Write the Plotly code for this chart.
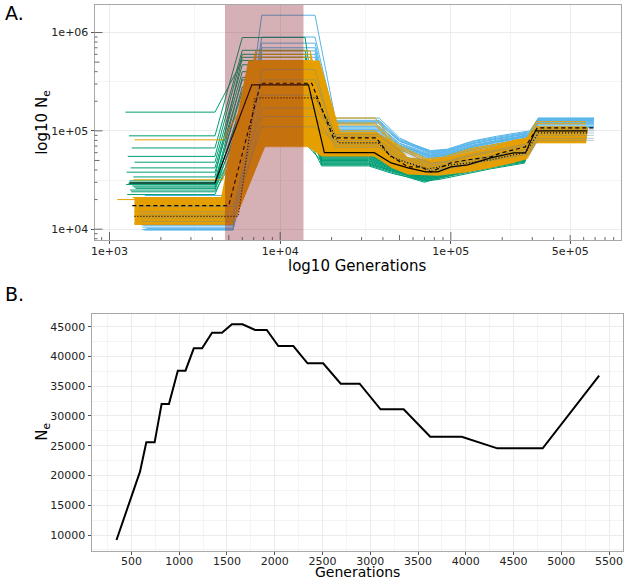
import math
import plotly.graph_objects as go

# ================= Panel A data (Ne values in thousands) =================
# epoch boundary times (generations) for each bootstrap colour group
green_times = [4150, 6000, 14000, 17500, 33000, 45000, 70000, 85000, 125000, 170000, 270000, 300000, 590000]
orange_times = [4600, 7200, 15000, 19000, 36000, 47000, 72000, 90000, 130000, 175000, 280000, 315000, 620000]
blue_times = [5300, 7800, 16000, 21000, 38000, 50000, 76000, 95000, 135000, 185000, 290000, 325000, 690000]

green_start = [1240, 1300, 1350, 1280, 1400, 1330, 1260, 1380, 1310, 1290, 1360, 1420, 1340, 1270, 1300, 1250, 1390, 1320]
green_left = [155, 89, 67, 55, 48, 42, 38, 34, 31, 29, 27.5, 26, 24, 22.5, 30, 28.5, 26.8, 25]
green_high = [520, 890, 660, 600, 470, 400, 330, 560, 250, 180, 130, 95, 75, 110, 350, 280, 200, 150]
green_second = [62, 58, 55, 52, 50, 48, 46, 45, 47, 53, 60, 44, 49, 56, 51, 54, 57, 46]
green_ta = [48, 45, 44, 42, 41, 40, 40, 38, 39, 43, 46, 37, 41, 44, 42, 43, 45, 39]
green_tb = [38, 35, 34, 33, 32, 31, 33, 30, 32, 35, 36, 31, 34, 33, 32, 34, 35, 31]
green_tc = [40, 37, 36, 35, 34, 33, 35, 33, 34, 37, 38, 32, 36, 35, 34, 36, 37, 33]
green_ra = [46, 44, 42, 41, 40, 39, 42, 38, 40, 43, 45, 37, 41, 43, 41, 42, 44, 39]
green_rb = [52, 49, 47, 46, 44, 43, 46, 42, 45, 48, 50, 41, 45, 47, 45, 46, 48, 43]
green_pre = [58, 55, 54, 52, 50, 49, 53, 48, 51, 56, 57, 47, 52, 54, 51, 53, 55, 49]
green_final = [98, 92, 96, 88, 85, 90, 93, 86, 94, 100, 97, 84, 89, 91, 87, 95, 99, 88]

blue_start = [1560, 1600, 1650, 1580, 1620, 1540, 1680, 1600, 1570, 1640, 1610, 1590, 1660, 1550]
blue_left = [10.5, 9.8, 10.2, 11, 12, 14, 18, 10, 16, 13, 22, 11.5, 15, 9.9]
blue_high = [1500, 780, 650, 560, 500, 430, 360, 120, 300, 200, 470, 600, 900, 700]
blue_second = [135, 107, 100, 95, 125, 112, 90, 118, 104, 128, 98, 110, 122, 102]
blue_ta = [85, 72, 70, 66, 80, 75, 64, 78, 69, 82, 67, 74, 79, 71]
blue_tb = [60, 55, 57, 52, 62, 58, 50, 61, 54, 63, 53, 56, 59, 55]
blue_tc = [62, 57, 59, 54, 64, 60, 52, 63, 56, 65, 55, 58, 61, 57]
blue_ra = [75, 68, 70, 64, 78, 72, 62, 76, 66, 79, 65, 71, 74, 69]
blue_rb = [82, 76, 78, 71, 86, 80, 69, 84, 74, 88, 72, 79, 83, 77]
blue_pre = [95, 88, 90, 83, 98, 92, 80, 96, 86, 100, 84, 91, 94, 89]
blue_final = [135, 128, 118, 112, 132, 125, 108, 130, 115, 134, 110, 122, 128, 120]

orange_start = [1400, 1380, 1110, 1420, 1450, 1400, 1390, 1430, 1410, 1440, 1370, 1400]
orange_left = [81, 31.8, 20, 17, 13, 11.5, 15, 19, 12.5, 16, 21, 14]
orange_high = [300, 600, 470, 650, 90, 75, 150, 420, 69, 230, 560, 520]
orange_second = [115, 135, 100, 90, 70, 62, 80, 95, 66, 85, 120, 75]
orange_ta = [70, 75, 62, 58, 50, 46, 55, 60, 48, 56, 72, 52]
orange_tb = [48, 52, 42, 40, 38, 36, 41, 45, 37, 44, 50, 39]
orange_tc = [50, 54, 45, 42, 40, 37, 43, 47, 39, 46, 52, 41]
orange_ra = [62, 66, 55, 50, 45, 42, 48, 58, 44, 52, 64, 47]
orange_rb = [68, 72, 62, 56, 50, 46, 54, 64, 48, 58, 70, 52]
orange_pre = [78, 84, 72, 64, 56, 52, 61, 75, 54, 68, 82, 58]
orange_final = [105, 124, 110, 100, 82, 76, 90, 108, 78, 95, 118, 86]

# bluish replicates seen through the dense orange band
over_start = [1500, 1520, 1480, 1510, 1490, 1530]
over_left = [14, 12, 17, 13, 15, 11]
over_high = [110, 140, 170, 230, 330, 420]
over_second = [80, 72, 88, 68, 92, 76]
over_ta = [58, 52, 62, 50, 64, 55]
over_tb = [44, 40, 46, 39, 47, 42]
over_tc = [46, 42, 48, 41, 49, 44]
over_ra = [52, 48, 56, 46, 58, 50]
over_rb = [58, 53, 62, 51, 64, 56]
over_pre = [66, 60, 72, 58, 75, 63]
over_final = [90, 84, 100, 80, 104, 95]

# envelope of the dense orange bundle
band_upper_t = [1400, 4500, 6500, 17000, 22500, 37000, 47000, 56000, 76000, 100000, 136000, 171000, 233000, 273000, 321000, 638000]
band_upper_n = [21, 21, 520, 520, 97, 97, 75, 54, 51, 55, 62, 67, 81, 84, 109, 109]
band_lower_t = [1400, 5300, 8200, 14300, 17500, 35600, 45000, 56000, 84000, 125000, 171000, 233000, 273000, 315000, 620000]
band_lower_n = [11, 11, 70, 70, 55, 55, 42, 36, 35, 38, 42, 47, 51, 75, 75]

# summary lines
solid_t = [1310, 4150, 6820, 14650, 18150, 35600, 44700, 56100, 71400, 84000, 100000, 125600, 149600, 171000, 233000, 273500, 313000, 630000]
solid_n = [29.5, 29.5, 294, 294, 60, 60, 47.2, 42, 38.3, 38.3, 43, 45.1, 49.5, 53.1, 59.7, 59.7, 100, 100]
dashed_t = [1360, 5000, 7690, 15300, 20500, 36500, 43500, 56100, 66800, 76400, 100000, 125600, 171000, 196000, 233000, 273000, 321000, 700000]
dashed_n = [17.4, 17.4, 305, 305, 85, 85, 57, 43, 43, 38.3, 47.2, 50.7, 54.3, 59.7, 64.1, 68.7, 107.4, 107.4]
dotted_t = [1400, 5680, 7100, 16300, 21900, 37500, 44700, 56100, 73500, 100000, 125600, 171000, 233000, 273000, 326000, 638000]
dotted_n = [13.5, 13.5, 216, 216, 75.5, 75.5, 54.3, 47.2, 41, 45.1, 47.2, 50.7, 57, 59.7, 95.5, 95.5]

shade_start, shade_end = 4750, 13700

xa_ticks = [1e3, 1e4, 1e5, 5e5]
xa_labels = ["1e+03", "1e+04", "1e+05", "5e+05"]
ya_ticks = [1e4, 1e5, 1e6]
ya_labels = ["1e+04", "1e+05", "1e+06"]

# ================= Panel B data =================
gen_b = [344, 590, 656, 743, 816, 893, 986, 1066, 1153, 1240, 1344, 1448, 1552, 1663, 1795, 1917,
         2038, 2195, 2344, 2507, 2691, 2889, 3108, 3350, 3628, 3958, 4330, 4805, 5396]
ne_b = [9160, 20640, 25570, 25570, 32010, 32010, 37610, 37610, 41360, 41360, 44000, 44000, 45400, 45400,
        44440, 44440, 41750, 41750, 38840, 38840, 35430, 35430, 31110, 31110, 26520, 26520, 24560, 24560, 36770]

# ================= build =================
GREEN, ORANGE, BLUE = "#009E73", "#E69F00", "#56B4E9"
W, H = 625, 580
XA_RANGE = [2.9125, 5.997]
YA_RANGE = [3.89, 6.28]
XA_DOM = [92 / W, 621 / W]
YA_DOM = [1 - 240 / H, 1 - 5 / H]
XB_DOM = [89 / W, 623 / W]
YB_DOM = [1 - 551 / H, 1 - 314 / H]


def paths(times, start, left, high, second, ta, tb, tc, ra, rb, pre, final):
    xs, ys = [], []
    for i in range(len(start)):
        lv = [left[i], left[i], high[i], high[i], second[i], second[i], ta[i], tb[i], tc[i],
              ra[i], rb[i], pre[i], final[i], final[i]]
        xs += [start[i]] + list(times) + [None]
        ys += [v * 1000 for v in lv] + [None]
    return xs, ys


fig = go.Figure()


def add_group(xs, ys, color, width=1.0, opacity=1.0):
    fig.add_trace(go.Scatter(x=xs, y=ys, mode="lines", line=dict(color=color, width=width),
                             opacity=opacity, connectgaps=False, hoverinfo="skip",
                             showlegend=False, xaxis="x", yaxis="y"))


gx, gy = paths(green_times, green_start, green_left, green_high, green_second, green_ta, green_tb,
               green_tc, green_ra, green_rb, green_pre, green_final)
bx, by = paths(blue_times, blue_start, blue_left, blue_high, blue_second, blue_ta, blue_tb,
               blue_tc, blue_ra, blue_rb, blue_pre, blue_final)
ox, oy = paths(orange_times, orange_start, orange_left, orange_high, orange_second, orange_ta,
               orange_tb, orange_tc, orange_ra, orange_rb, orange_pre, orange_final)
vx, vy = paths(blue_times, over_start, over_left, over_high, over_second, over_ta, over_tb,
               over_tc, over_ra, over_rb, over_pre, over_final)

add_group(bx, by, BLUE)
add_group(gx, gy, GREEN)
# orange band
fig.add_trace(go.Scatter(
    x=band_upper_t + band_lower_t[::-1],
    y=[v * 1000 for v in band_upper_n + band_lower_n[::-1]],
    mode="lines", fill="toself", fillcolor=ORANGE, line=dict(width=0, color=ORANGE),
    hoverinfo="skip", showlegend=False, xaxis="x", yaxis="y"))
add_group(ox, oy, ORANGE)
add_group(vx, vy, "#6a8fa8", width=1.0, opacity=0.45)

fig.add_trace(go.Scatter(x=solid_t, y=[v * 1000 for v in solid_n], mode="lines",
                         line=dict(color="black", width=1.2), showlegend=False, xaxis="x", yaxis="y"))
fig.add_trace(go.Scatter(x=dashed_t, y=[v * 1000 for v in dashed_n], mode="lines",
                         line=dict(color="black", width=1.2, dash="4px,3px"), showlegend=False, xaxis="x", yaxis="y"))
fig.add_trace(go.Scatter(x=dotted_t, y=[v * 1000 for v in dotted_n], mode="lines",
                         line=dict(color="black", width=1.2, dash="1px,2px"), showlegend=False, xaxis="x", yaxis="y"))

# panel B
fig.add_trace(go.Scatter(x=gen_b, y=ne_b, mode="lines", line=dict(color="black", width=2),
                         showlegend=False, xaxis="x2", yaxis="y2"))


def xfrac(v):
    return (math.log10(v) - XA_RANGE[0]) / (XA_RANGE[1] - XA_RANGE[0])


shapes = []
# shaded period
shapes.append(dict(type="rect", xref="x domain", yref="y domain", x0=xfrac(shade_start), x1=xfrac(shade_end),
                   y0=0, y1=1, fillcolor="rgba(135,30,40,0.35)", line=dict(width=0), layer="above"))
# log ticks (inside, bottom and left)
xa_h = (YA_DOM[1] - YA_DOM[0]) * H
xa_w = (XA_DOM[1] - XA_DOM[0]) * W
for k in range(2, 7):
    for m in range(1, 10):
        v = m * 10 ** k
        ln = 8 if m == 1 else (5 if m == 5 else 3)
        lx = math.log10(v)
        if XA_RANGE[0] <= lx <= XA_RANGE[1]:
            f = xfrac(v)
            shapes.append(dict(type="line", xref="x domain", yref="y domain", x0=f, x1=f, y0=0, y1=ln / xa_h,
                               line=dict(color="#444444", width=0.8), layer="above"))
        if YA_RANGE[0] <= lx <= YA_RANGE[1]:
            f = (lx - YA_RANGE[0]) / (YA_RANGE[1] - YA_RANGE[0])
            shapes.append(dict(type="line", xref="x domain", yref="y domain", x0=0, x1=ln / xa_w, y0=f, y1=f,
                               line=dict(color="#444444", width=0.8), layer="above"))

FONT = "DejaVu Sans"
tickfont = dict(family=FONT, size=11, color="#222222")
axis_common = dict(showline=True, mirror=True, linecolor="#A8A8A8", linewidth=1,
                   ticks="outside", ticklen=3, tickcolor="#555555", tickwidth=1,
                   gridcolor="#EBEBEB", gridwidth=1, zeroline=False, tickfont=tickfont)

fig.update_layout(
    width=W, height=H, margin=dict(l=0, r=0, t=0, b=0),
    paper_bgcolor="white", plot_bgcolor="white", showlegend=False,
    shapes=shapes,
    xaxis=dict(domain=XA_DOM, anchor="y", type="log", range=XA_RANGE, tickmode="array",
               tickvals=xa_ticks, ticktext=xa_labels, ticklabelstandoff=-2,
               minor=dict(tickvals=[3162.28, 31622.8, 223607], showgrid=True, gridcolor="#F4F4F4", gridwidth=0.6, ticks=""),
               **axis_common),
    yaxis=dict(domain=YA_DOM, anchor="x", type="log", range=YA_RANGE, tickmode="array",
               tickvals=ya_ticks, ticktext=ya_labels,
               minor=dict(tickvals=[31622.8, 316228], showgrid=True, gridcolor="#F4F4F4", gridwidth=0.6, ticks=""),
               **axis_common),
    xaxis2=dict(domain=XB_DOM, anchor="y2", range=[83, 5646], tick0=500, dtick=500, tickformat="d",
                ticklabelstandoff=-3,
                minor=dict(dtick=250, tick0=250, showgrid=True, gridcolor="#F4F4F4", gridwidth=0.6, ticks=""),
                **axis_common),
    yaxis2=dict(domain=YB_DOM, anchor="x2", range=[7312, 47134], tick0=10000, dtick=5000, tickformat="d",
                minor=dict(dtick=2500, tick0=7500, showgrid=True, gridcolor="#F4F4F4", gridwidth=0.6, ticks=""),
                **axis_common),
)


def ann(text, px, py, size, angle=0, xanchor="center"):
    fig.add_annotation(text=text, x=px / W, y=1 - py / H, xref="paper", yref="paper", showarrow=False,
                       xanchor=xanchor, yanchor="middle", textangle=angle,
                       font=dict(family=FONT, size=size, color="black"))


ann("A.", 0, 13, 19, xanchor="left")
ann("B.", 0, 294, 19, xanchor="left")
ann("log10 Generations", 356, 266, 15)
ann("log10 N<sub>e</sub>", 39, 123, 15, angle=-90)
ann("Generations", 356, 572, 14)
ann("N<sub>e</sub>", 39, 432, 15, angle=-90)

fig.write_html("out.html", config={"displayModeBar": False},
               post_script="document.body.style.margin='0';document.body.style.overflow='hidden';")
